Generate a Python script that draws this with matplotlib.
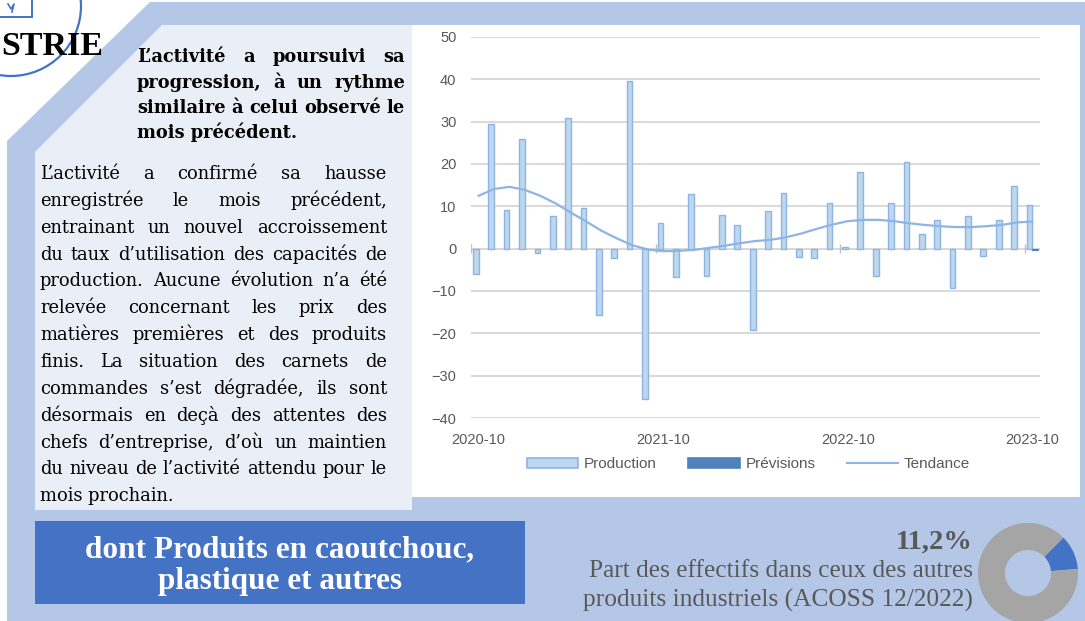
import matplotlib
matplotlib.use("Agg")
import matplotlib.pyplot as plt
from matplotlib.patches import Polygon, Rectangle, Circle
import numpy as np

# ---------------- data ----------------
tick_labels = ["2020-10", "2021-10", "2022-10", "2023-10"]
tick_index = [0, 12, 24, 36]
production = [-6.0, 29.5, 9.2, 25.9, -1.1, 7.8, 30.9, 9.5, -15.7, -2.1,
              39.7, -35.4, 6.1, -6.8, 12.9, -6.4, 8.0, 5.6, -19.1, 8.9,
              13.2, -1.9, -2.1, 10.7, 0.5, 18.0, -6.4, 10.9, 20.5, 3.5,
              6.7, -9.2, 7.7, -1.8, 6.7, 14.7, 10.2]
previsions = [np.nan] * 36 + [-0.4]
tendance = [12.5, 14.1, 14.6, 13.9, 12.5, 10.7, 8.5, 6.4, 4.2, 2.4,
            0.8, -0.2, -0.6, -0.5, -0.3, 0.2, 0.7, 1.3, 1.8, 2.1,
            2.7, 3.6, 4.7, 5.7, 6.5, 6.8, 6.8, 6.5, 6.0, 5.6,
            5.3, 5.1, 5.1, 5.3, 5.6, 6.2, 6.4]
legend_labels = ["Production", "Prévisions", "Tendance"]
donut_share = [11.2, 88.8]
share_label = "11,2%"

heading_lines = ["L’activité a poursuivi sa",
                 "progression, à un rythme",
                 "similaire à celui observé le",
                 "mois précédent."]
body_lines = ["L’activité a confirmé sa hausse",
              "enregistrée le mois précédent,",
              "entrainant un nouvel accroissement",
              "du taux d’utilisation des capacités de",
              "production. Aucune évolution n’a été",
              "relevée concernant les prix des",
              "matières premières et des produits",
              "finis. La situation des carnets de",
              "commandes s’est dégradée, ils sont",
              "désormais en deçà des attentes des",
              "chefs d’entreprise, d’où un maintien",
              "du niveau de l’activité attendu pour le",
              "mois prochain."]
box_lines = ["dont Produits en caoutchouc,", "plastique et autres"]
share_caption = ["Part des effectifs dans ceux des autres",
                 "produits industriels (ACOSS 12/2022)"]

# ---------------- colours ----------------
BG_BLUE = "#B4C7E7"
PANEL = "#E9EEF7"
DARK_BOX = "#4472C4"
BAR_FILL = "#BDD7EE"
BAR_EDGE = "#8FB4E3"
PREV = "#4F81BD"
TREND = "#8EB4E3"
GRID = "#D9D9D9"
GREY_TXT = "#595959"

W, H = 1085, 621
fig = plt.figure(figsize=(W / 100, H / 100), dpi=100)
fig.patch.set_facecolor("white")

# background axes in pixel coordinates
bg = fig.add_axes([0, 0, 1, 1])
bg.set_xlim(0, W)
bg.set_ylim(H, 0)
bg.axis("off")

bg.add_patch(Polygon([(150, 2), (W, 2), (W, H), (7, H), (7, 141)],
                     closed=True, fc=BG_BLUE, ec="none", zorder=1))
bg.add_patch(Polygon([(162, 25), (412, 25), (412, 510), (35, 510), (35, 152)],
                     closed=True, fc=PANEL, ec="none", zorder=2))
bg.add_patch(Rectangle((412, 25), 668, 472, fc="white", ec="none", zorder=2))
bg.add_patch(Rectangle((35, 521), 490, 83, fc=DARK_BOX, ec="none", zorder=2))

# logo fragments
bg.add_patch(Circle((11, 6), 70, fc="none", ec="#4472C4", lw=1.6, zorder=3))
bg.add_patch(Rectangle((-3, -3), 35, 20, fc="white", ec="#4472C4", lw=1.4, zorder=3))
bg.plot([8, 11, 14, 12], [4, 9, 4, 12], color="#4472C4", lw=1.2, zorder=4)
bg.text(1, 55, "STRIE", ha="left", va="baseline", fontsize=24.5,
        fontweight="bold", family="Liberation Serif", color="black", zorder=5)

renderer = fig.canvas.get_renderer()


def justify(line, x0, x1, y, justify_line=True, **kw):
    words = line.split(" ")
    if not justify_line or len(words) == 1:
        bg.text(x0, y, line, ha="left", va="baseline", zorder=6, **kw)
        return
    texts = [bg.text(x0, y, w, ha="left", va="baseline", zorder=6, **kw) for w in words]
    widths = [t.get_window_extent(renderer).width for t in texts]
    gap = (x1 - x0 - sum(widths)) / (len(words) - 1)
    xx = x0
    for t, wd in zip(texts, widths):
        t.set_x(xx)
        xx += wd + gap


for k, line in enumerate(heading_lines):
    justify(line, 137, 405, 62.3 + k * 25.4, justify_line=(k < len(heading_lines) - 1),
            fontsize=12.8, fontweight="bold", family="DejaVu Serif", color="black")

for k, line in enumerate(body_lines):
    justify(line, 40, 387, 179 + k * 26.85, justify_line=(k < len(body_lines) - 1),
            fontsize=12.9, family="DejaVu Serif", color="black")

for k, line in enumerate(box_lines):
    bg.text(280, 557 + k * 32, line, ha="center", va="baseline", fontsize=22.5,
            fontweight="bold", family="Liberation Serif", color="white", zorder=6)

bg.text(973, 549, share_label, ha="right", va="baseline", fontsize=20.5,
        fontweight="bold", family="Liberation Serif", color=GREY_TXT, zorder=6)
for k, line in enumerate(share_caption):
    bg.text(973, 577 + k * 30, line, ha="right", va="baseline", fontsize=18.3,
            family="Liberation Serif", color=GREY_TXT, zorder=6)

# legend (manual, pixel coords)
bg.add_patch(Rectangle((527, 458), 51, 10, fc=BAR_FILL, ec=BAR_EDGE, lw=1.2, zorder=6))
bg.text(584, 463.5, legend_labels[0], ha="left", va="center", fontsize=11,
        family="Liberation Sans", color=GREY_TXT, zorder=6)
bg.add_patch(Rectangle((688, 458), 52, 10, fc=PREV, ec=PREV, lw=1.2, zorder=6))
bg.text(746, 463.5, legend_labels[1], ha="left", va="center", fontsize=11,
        family="Liberation Sans", color=GREY_TXT, zorder=6)
bg.plot([847, 898], [463, 463], color=TREND, lw=1.5, zorder=6)
bg.text(904, 463.5, legend_labels[2], ha="left", va="center", fontsize=11,
        family="Liberation Sans", color=GREY_TXT, zorder=6)

# ---------------- chart ----------------
ax = fig.add_axes([471 / W, (H - 418) / H, 569 / W, 381 / H])
ax.set_facecolor("none")
x = np.arange(len(production))
ax.bar(x - 0.185, production, width=0.37, color=BAR_FILL, edgecolor=BAR_EDGE,
       linewidth=1.0, zorder=3)
ax.bar(x + 0.185, previsions, width=0.37, color=PREV, edgecolor=PREV,
       linewidth=0.8, zorder=3)
ax.plot(x, tendance, color=TREND, lw=1.6, zorder=4)
ax.set_xlim(-0.5, len(production) - 0.5)
ax.set_ylim(-40, 50)
ax.set_yticks(range(-40, 51, 10))
ax.set_xticks(tick_index)
ax.set_xticklabels(tick_labels)
ax.yaxis.grid(True, color=GRID, lw=1.4)
ax.set_axisbelow(True)
ax.axhline(0, color=GRID, lw=1.4, zorder=2)
ax.vlines([-0.5, 11.5, 23.5, 35.5], -1.0, 1.0, color="#BFBFBF", lw=1.0, zorder=2)
for s in ax.spines.values():
    s.set_visible(False)
ax.tick_params(axis="both", length=0, labelsize=10.5, labelcolor=GREY_TXT)
ax.tick_params(axis="y", pad=10.5)
ax.tick_params(axis="x", pad=11)
for lab in ax.get_xticklabels() + ax.get_yticklabels():
    lab.set_family("Liberation Sans")

# ---------------- donut ----------------
cx, cy, r = 1028, 573, 50
pax = fig.add_axes([(cx - r) / W, (H - cy - r) / H, 2 * r / W, 2 * r / H])
pax.pie(donut_share, colors=[DARK_BOX, "#A5A5A5"], startangle=45, counterclock=False,
        wedgeprops=dict(width=0.54, edgecolor="none"))
pax.set_xlim(-1, 1)
pax.set_ylim(-1, 1)
pax.set_aspect("equal")

fig.savefig("out.png", dpi=100)
